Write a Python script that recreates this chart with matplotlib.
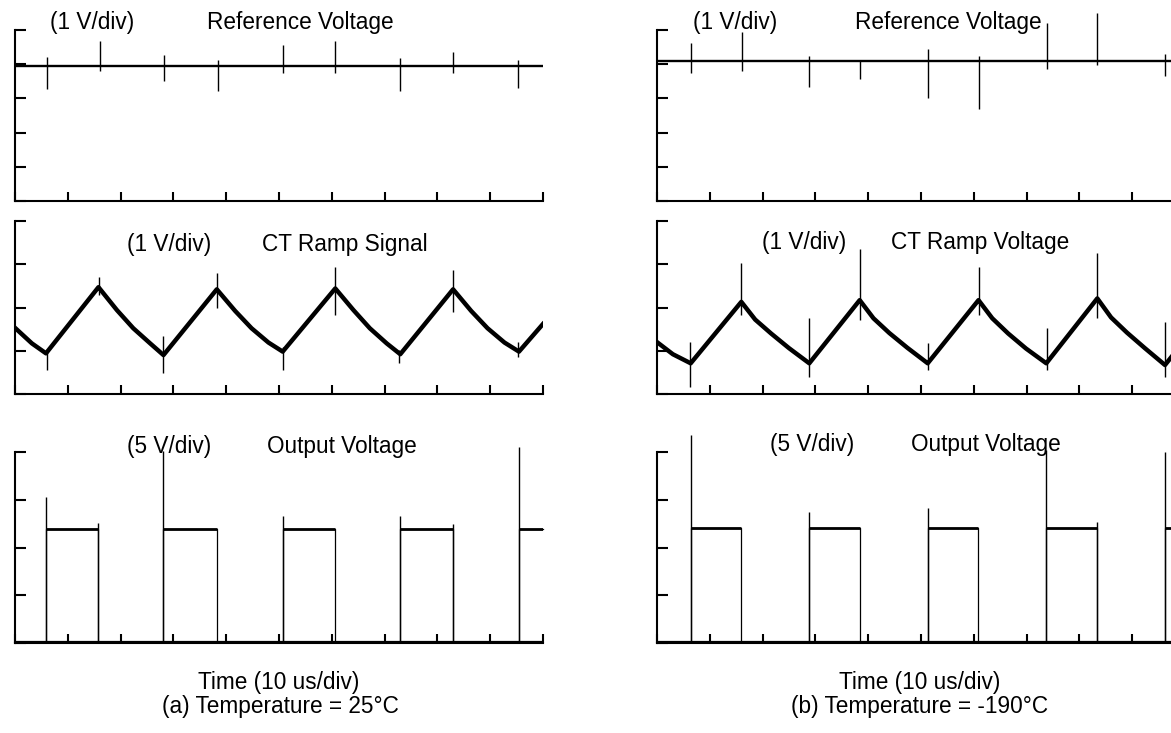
import matplotlib.pyplot as plt

plt.rcParams['font.family'] = ['Liberation Sans', 'DejaVu Sans']

W, H = 1171, 733

# ---- (a) 25 C : times in us, amplitudes in divisions ----
a_rise = [5.87, 28.12, 50.70, 72.97, 95.45]
a_fall = [15.81, 38.22, 60.66, 82.97]

a_ref_level = 3.96
a_ref_spike_t = [6.0, 16.1, 28.3, 38.4, 50.7, 60.7, 72.9, 83.0, 95.3]
a_ref_spike_hi = [4.20, 4.69, 4.27, 4.12, 4.56, 4.69, 4.17, 4.37, 4.12]
a_ref_spike_lo = [3.27, 3.81, 3.52, 3.23, 3.75, 3.75, 3.23, 3.75, 3.31]

a_ramp_t = [0, 3.2, 5.87, 15.81, 19.3, 22.4, 25.6, 28.12, 38.22, 41.7, 44.8, 48.0,
            50.70, 60.66, 64.1, 67.2, 70.4, 72.97, 82.97, 86.4, 89.5, 92.7, 95.45, 100]
a_ramp_v = [1.53, 1.17, 0.94, 2.47, 1.94, 1.52, 1.17, 0.90, 2.42, 1.92, 1.52, 1.19,
            0.98, 2.44, 1.94, 1.52, 1.17, 0.92, 2.42, 1.92, 1.52, 1.19, 0.98, 1.62]
a_ramp_spike_t = [6.0, 15.9, 28.1, 38.2, 50.7, 60.6, 72.7, 82.9, 95.3]
a_ramp_spike_hi = [1.05, 2.70, 1.34, 2.79, 1.09, 2.94, 1.02, 2.87, 1.21]
a_ramp_spike_lo = [0.55, 2.30, 0.48, 1.98, 0.55, 1.83, 0.71, 1.90, 0.86]

a_out_lo, a_out_hi = 0.02, 2.39
a_out_spike_t = [5.87, 15.81, 28.12, 50.70, 72.97, 82.97, 95.45]
a_out_spike_hi = [3.06, 2.51, 4.03, 2.65, 2.65, 2.49, 4.11]

# ---- (b) -190 C ----
b_rise = [6.38, 28.84, 51.27, 73.73, 96.21]
b_fall = [15.97, 38.39, 60.89, 83.39]

b_ref_level = 4.10
b_ref_spike_t = [6.38, 16.04, 28.84, 38.45, 51.38, 60.93, 73.80, 83.40, 96.20]
b_ref_spike_hi = [4.61, 4.95, 4.24, 4.12, 4.44, 4.24, 5.20, 5.49, 4.30]
b_ref_spike_lo = [3.73, 3.81, 3.32, 3.56, 3.00, 2.68, 3.85, 3.98, 3.65]

b_ramp_t = [0, 3.0, 6.38, 15.97, 18.6, 21.6, 25.0, 28.84, 38.39, 41.0, 44.0, 47.4,
            51.27, 60.89, 63.5, 66.5, 69.9, 73.73, 83.39, 86.0, 89.0, 92.4, 96.21, 100]
b_ramp_v = [1.20, 0.92, 0.71, 2.13, 1.72, 1.40, 1.06, 0.71, 2.17, 1.75, 1.41, 1.07,
            0.71, 2.17, 1.75, 1.40, 1.05, 0.71, 2.21, 1.77, 1.42, 1.06, 0.67, 1.25]
b_ramp_spike_t = [6.25, 15.97, 28.72, 38.45, 51.27, 60.93, 73.80, 83.40, 96.20]
b_ramp_spike_hi = [1.21, 3.02, 1.75, 3.35, 1.19, 2.94, 1.52, 3.27, 1.67]
b_ramp_spike_lo = [0.17, 1.83, 0.40, 1.71, 0.55, 1.83, 0.55, 1.75, 0.40]

b_out_lo, b_out_hi = 0.02, 2.40
b_out_spike_t = [6.38, 28.84, 51.27, 73.73, 83.39, 96.21]
b_out_spike_hi = [4.36, 2.75, 2.83, 4.04, 2.54, 4.01]

labels_a = [("(1 V/div)", 92, 23), ("Reference Voltage", 300, 23),
            ("(1 V/div)", 169, 244), ("CT Ramp Signal", 345, 244),
            ("(5 V/div)", 169, 446), ("Output Voltage", 342, 446),
            ("Time (10 us/div)", 279, 683), ("(a) Temperature = 25°C", 280, 707)]
labels_b = [("(1 V/div)", 735, 23), ("Reference Voltage", 948, 23),
            ("(1 V/div)", 804, 243), ("CT Ramp Voltage", 980, 243),
            ("(5 V/div)", 812, 445), ("Output Voltage", 986, 445),
            ("Time (10 us/div)", 920, 683), ("(b) Temperature = -190°C", 920, 707)]


def square_wave(rises, falls, lo, hi, t_end=100.0):
    edges = sorted([(r, lo, hi) for r in rises] + [(f, hi, lo) for f in falls])
    t, v = [0.0], [lo]
    for te, v0, v1 in edges:
        t += [te, te]
        v += [v0, v1]
    t.append(t_end)
    v.append(v[-1])
    return t, v


def scope_axes(fig, left_px, top_px, bottom_px, ndiv):
    ax = fig.add_axes([left_px / W, 1 - bottom_px / H, 528 / W, (bottom_px - top_px) / H])
    ax.set_xlim(0, 100)
    ax.set_ylim(0, ndiv)
    ax.set_xticks(range(0, 101, 10))
    ax.set_yticks(range(0, ndiv + 1))
    ax.set_xticklabels([])
    ax.set_yticklabels([])
    ax.spines[['top', 'right']].set_visible(False)
    for s in ('left', 'bottom'):
        ax.spines[s].set_linewidth(1.5)
    ax.tick_params(axis='x', direction='in', length=6.5, width=1.5)
    ax.tick_params(axis='y', direction='in', length=8, width=1.5)
    return ax


fig = plt.figure(figsize=(W / 100, H / 100), dpi=100)

columns = [
    (15, a_rise, a_fall, a_ref_level, a_ref_spike_t, a_ref_spike_hi, a_ref_spike_lo,
     a_ramp_t, a_ramp_v, a_ramp_spike_t, a_ramp_spike_hi, a_ramp_spike_lo,
     a_out_lo, a_out_hi, a_out_spike_t, a_out_spike_hi),
    (657, b_rise, b_fall, b_ref_level, b_ref_spike_t, b_ref_spike_hi, b_ref_spike_lo,
     b_ramp_t, b_ramp_v, b_ramp_spike_t, b_ramp_spike_hi, b_ramp_spike_lo,
     b_out_lo, b_out_hi, b_out_spike_t, b_out_spike_hi),
]

for (x0, rise, fall, ref_lvl, rs_t, rs_hi, rs_lo, rp_t, rp_v, ps_t, ps_hi, ps_lo,
     o_lo, o_hi, os_t, os_hi) in columns:
    # reference voltage
    ax = scope_axes(fig, x0, 30, 201, 5)
    ax.plot([0, 100], [ref_lvl, ref_lvl], color='black', lw=1.7)
    ax.vlines(rs_t, rs_lo, rs_hi, color='black', lw=1.0, clip_on=False)

    # CT ramp
    ax = scope_axes(fig, x0, 221, 394, 4)
    ax.plot(rp_t, rp_v, color='black', lw=3.2, solid_joinstyle='round')
    ax.vlines(ps_t, ps_lo, ps_hi, color='black', lw=1.0, clip_on=False)

    # output voltage
    ax = scope_axes(fig, x0, 452, 643, 4)
    st, sv = square_wave(rise, fall, o_lo, o_hi)
    ax.plot(st, sv, color='black', lw=0.9, clip_on=False)
    highs_end = fall + [100.0]
    ax.hlines([o_hi] * len(rise), rise, highs_end[:len(rise)], color='black', lw=2.0)
    ax.hlines(o_lo, 0, 100, color='black', lw=1.6)
    ax.vlines(os_t, o_lo, os_hi, color='black', lw=1.0, clip_on=False)

for txt, x, y in labels_a + labels_b:
    fig.text(x / W, 1 - y / H, txt, ha='center', va='center', fontsize=16.3)

fig.savefig('out.png', dpi=100)
